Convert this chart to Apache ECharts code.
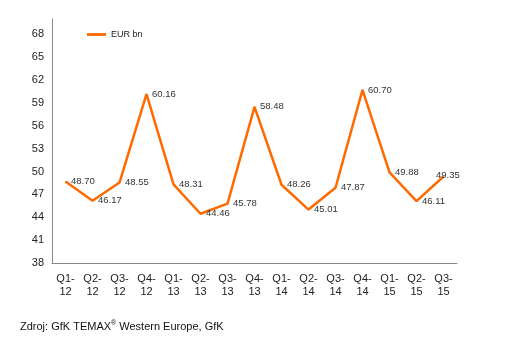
<!DOCTYPE html>
<html><head><meta charset="utf-8">
<script src="https://cdn.jsdelivr.net/npm/echarts@6/dist/echarts.min.js"></script>
<style>html,body{margin:0;padding:0;background:#fff}#c{width:518px;height:342px}</style>
</head><body><div id="c"></div>
<script>
var categories = ['Q1-\n12','Q2-\n12','Q3-\n12','Q4-\n12','Q1-\n13','Q2-\n13','Q3-\n13','Q4-\n13','Q1-\n14','Q2-\n14','Q3-\n14','Q4-\n14','Q1-\n15','Q2-\n15','Q3-\n15'];
var values = [48.70, 46.17, 48.55, 60.16, 48.31, 44.46, 45.78, 58.48, 48.26, 45.01, 47.87, 60.70, 49.88, 46.11, 49.35];
var seriesName = 'EUR bn';
var source = 'Zdroj: GfK TEMAX';

var seriesData = values.map(function (v, i) {
  var d = {value: v};
  if (i === values.length - 1) d.label = {offset: [-13, -1]};
  return d;
});

var chart = echarts.init(document.getElementById('c'));
chart.setOption({
  animation: false,
  textStyle: {fontFamily: 'Liberation Sans, Arial, sans-serif'},
  grid: {left: 52, right: 61, top: 19, bottom: 79},
  legend: {
    data: [seriesName], left: 82, top: 25, itemWidth: 19, itemHeight: 10, itemGap: 3,
    textStyle: {fontSize: 9, color: '#222'},
    icon: 'path://M0,0 L20,0 L20,3 L0,3 Z'
  },
  xAxis: {
    type: 'category', data: categories, boundaryGap: true,
    axisLine: {lineStyle: {color: '#888', width: 1}},
    axisTick: {show: false},
    axisLabel: {fontSize: 11, color: '#222', lineHeight: 13, margin: 9, interval: 0}
  },
  yAxis: {
    type: 'value', min: 38, max: 70, interval: 3,
    axisLine: {show: true, lineStyle: {color: '#888', width: 1}},
    axisTick: {show: false},
    splitLine: {show: false},
    axisLabel: {fontSize: 11, color: '#222', margin: 8, showMaxLabel: false}
  },
  series: [{
    name: seriesName, type: 'line', data: seriesData,
    symbol: 'circle', symbolSize: 1, showSymbol: true,
    lineStyle: {color: '#FF6A00', width: 2.5},
    itemStyle: {color: '#FF6A00'},
    label: {show: true, position: 'right', distance: 5, fontSize: 9.5, color: '#333',
      formatter: function(p){ return p.value.toFixed(2); }}
  }],
  graphic: [{
    type: 'text', left: 20, top: 320,
    style: {
      text: '{a|' + source + '}{s|®}{a| Western Europe, GfK}',
      rich: {
        a: {fontSize: 11, fill: '#111', fontFamily: 'Liberation Sans, Arial, sans-serif'},
        s: {fontSize: 7, fill: '#111', verticalAlign: 'top', padding: [0,0,6,0], fontFamily: 'Liberation Sans, Arial, sans-serif'}
      }
    }
  }]
});
</script></body></html>
